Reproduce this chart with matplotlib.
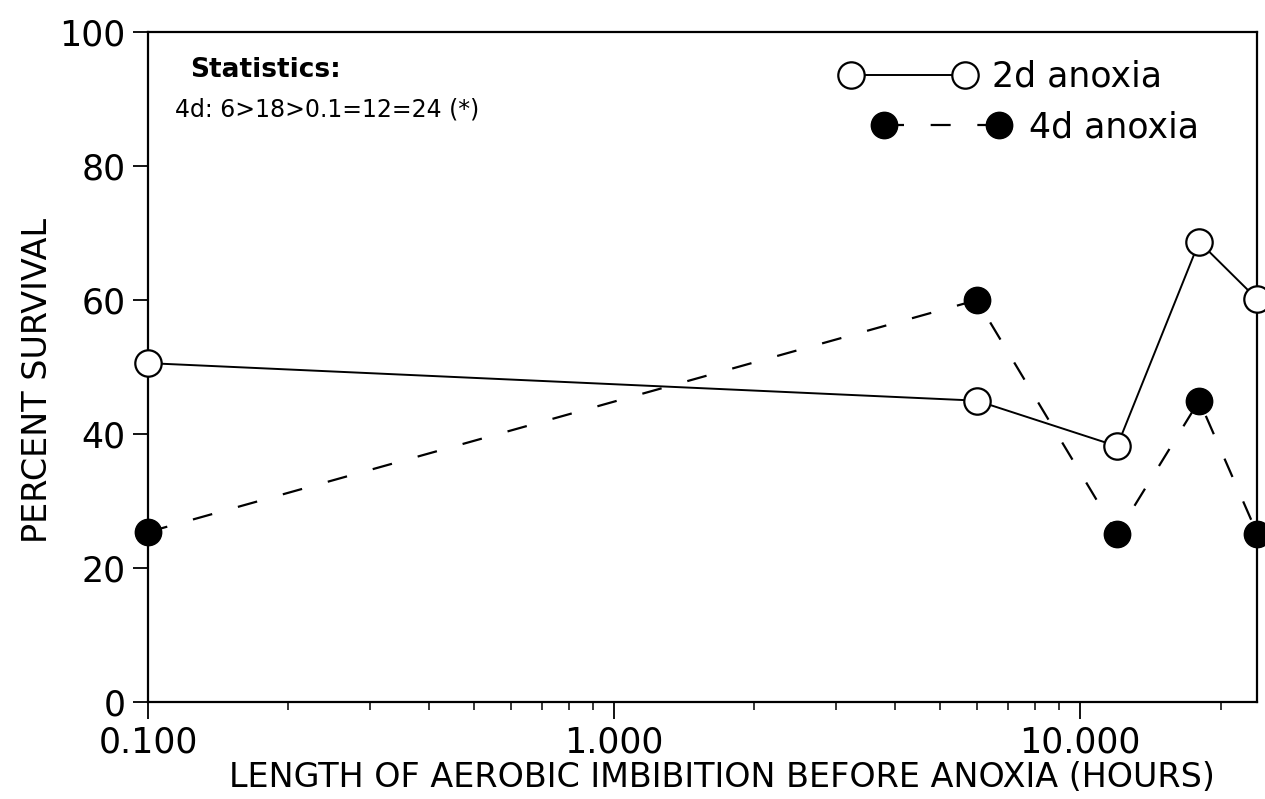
import matplotlib
matplotlib.use("Agg")
import matplotlib.pyplot as plt

# hours of aerobic imbibition before anoxia
hours = [0.1, 6, 12, 18, 24]
surv_2d = [50.6, 45.0, 38.2, 68.7, 60.1]
surv_4d = [25.4, 60.0, 25.1, 45.0, 25.1]
labels = ['2d anoxia', '4d anoxia']
xticks = [0.1, 1, 10]
xticklabels = ['0.100', '1.000', '10.000']
yticks = [0, 20, 40, 60, 80, 100]
stats_title = 'Statistics:'
stats_line = '4d: 6>18>0.1=12=24 (*)'

fig = plt.figure(figsize=(12.65, 7.99), dpi=100)
ax = fig.add_axes([0.117, 0.121, 0.877, 0.839])

l2, = ax.plot(hours, surv_2d, color='black', lw=1.4, marker='o', ms=19,
              mfc='white', mec='black', mew=1.6, clip_on=False, zorder=3)
l4, = ax.plot(hours, surv_4d, color='black', lw=1.6, ls=(0, (9, 12)), marker='o', ms=19,
              mfc='black', mec='black', clip_on=False, zorder=3)

ax.set_xscale('log')
ax.set_xlim(0.1, 24)
ax.set_ylim(0, 100)
ax.set_xticks(xticks)
ax.set_xticklabels(xticklabels)
ax.set_yticks(yticks)
ax.tick_params(axis='x', which='major', direction='out', length=12, width=1.3, labelsize=25, pad=5)
ax.tick_params(axis='x', which='minor', direction='out', length=6, width=1.1)
ax.tick_params(axis='y', direction='out', length=11, width=1.3, labelsize=25, pad=5)
for s in ax.spines.values():
    s.set_linewidth(1.6)

ax.set_xlabel('LENGTH OF AEROBIC IMBIBITION BEFORE ANOXIA (HOURS)', fontsize=24)
ax.xaxis.set_label_coords(0.517, -0.088)
ax.set_ylabel('PERCENT SURVIVAL', fontsize=24)
ax.yaxis.set_label_coords(-0.085, 0.48)

ax.text(0.038, 0.943, stats_title, transform=ax.transAxes, fontsize=19,
        fontweight='bold', va='center')
ax.text(0.024, 0.884, stats_line, transform=ax.transAxes, fontsize=17, va='center')

# two legends, second row sits a little further right as in the original
leg_kw = dict(loc='center left', frameon=False, numpoints=2, handlelength=3.9,
              fontsize=25, borderpad=0, borderaxespad=0)
leg1 = ax.legend([l2], [labels[0]], bbox_to_anchor=(0.624, 0.933),
                 handletextpad=0.48, **leg_kw)
ax.add_artist(leg1)
ax.legend([l4], [labels[1]], bbox_to_anchor=(0.654, 0.858),
          handletextpad=0.59, **leg_kw)

fig.savefig('out.png', dpi=100)
